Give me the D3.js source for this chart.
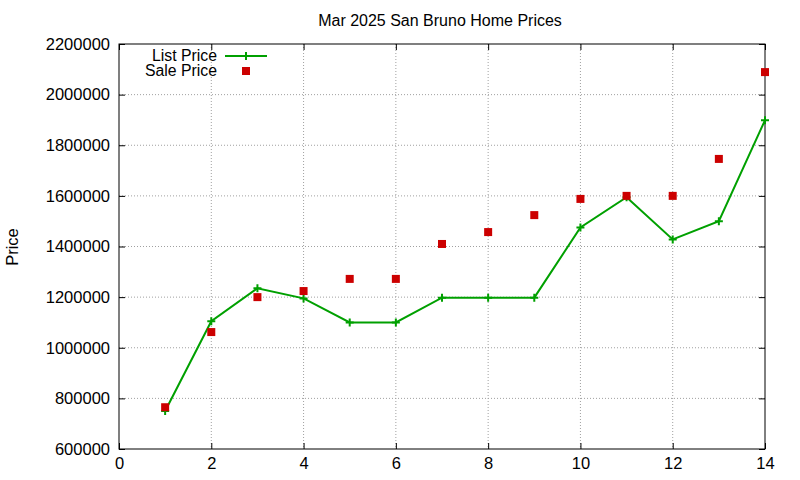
<!DOCTYPE html>
<html><head><meta charset="utf-8">
<script src="https://cdn.jsdelivr.net/npm/d3@7"></script>
<style>body{margin:0;background:#fff}svg{font-family:"Liberation Sans",Arial,sans-serif}</style>
</head><body><svg id="c" width="800" height="480"></svg>
<script>
const months=[1,2,3,4,5,6,7,8,9,10,11,12,13,14];
const listPrice=[750000,1105000,1235000,1195000,1100000,1100000,1198000,1198000,1198000,1475000,1595000,1428000,1500000,1899000];
const salePrice=[765000,1062000,1200000,1224000,1272000,1272000,1410000,1457000,1524000,1588000,1600000,1600000,1746000,2089000];
const xTicks=[0,2,4,6,8,10,12,14];
const yTicks=[600000,800000,1000000,1200000,1400000,1600000,1800000,2000000,2200000];
const svg=d3.select("#c");
const L=119,R=765,T=44,B=449;
const x=d3.scaleLinear().domain([0,14]).range([L,R]);
const y=d3.scaleLinear().domain([600000,2200000]).range([B,T]);
const g=svg.append("g");
xTicks.slice(1,-1).forEach(t=>g.append("line").attr("x1",x(t)).attr("x2",x(t)).attr("y1",T).attr("y2",B).attr("stroke","#a0a0a0").attr("stroke-dasharray","1,2"));
yTicks.slice(1,-1).forEach(t=>g.append("line").attr("x1",L).attr("x2",R).attr("y1",y(t)).attr("y2",y(t)).attr("stroke","#a0a0a0").attr("stroke-dasharray","1,2"));
svg.append("g").attr("transform",`translate(0,${B})`).call(d3.axisBottom(x).tickValues(xTicks).tickSize(-6).tickPadding(8).tickFormat(d3.format("d")));
svg.append("g").attr("transform",`translate(${L},0)`).call(d3.axisLeft(y).tickValues(yTicks).tickSize(-6).tickPadding(9).tickFormat(d3.format("d")));
svg.append("g").attr("transform",`translate(0,${T})`).call(d3.axisTop(x).tickValues(xTicks).tickSize(-6).tickFormat(""));
svg.append("g").attr("transform",`translate(${R},0)`).call(d3.axisRight(y).tickValues(yTicks).tickSize(-6).tickFormat(""));
svg.selectAll(".domain").remove();
svg.append("rect").attr("x",L).attr("y",T).attr("width",R-L).attr("height",B-T).attr("fill","none").attr("stroke","#000");
svg.selectAll(".tick text").attr("font-size",16.5).attr("font-family","Liberation Sans,Arial").attr("fill","#000");
const green="#00a000",red="#cc0000";
svg.append("path").datum(months.map((m,i)=>[m,listPrice[i]])).attr("d",d3.line().x(d=>x(d[0])).y(d=>y(d[1]))).attr("fill","none").attr("stroke",green).attr("stroke-width",2);
const plus=(cx,cy)=>svg.append("path").attr("d",`M${cx-4},${cy}H${cx+4}M${cx},${cy-4}V${cy+4}`).attr("stroke",green).attr("stroke-width",2);
months.forEach((m,i)=>plus(x(m),y(listPrice[i])));
months.forEach((m,i)=>svg.append("rect").attr("x",x(m)-4).attr("y",y(salePrice[i])-4).attr("width",8).attr("height",8).attr("fill",red));
svg.append("text").attr("x",217).attr("y",61).attr("text-anchor","end").attr("font-size",15.8).text("List Price");
svg.append("line").attr("x1",225).attr("x2",267).attr("y1",56).attr("y2",56).attr("stroke",green).attr("stroke-width",2);
plus(246,56);
svg.append("text").attr("x",217).attr("y",76).attr("text-anchor","end").attr("font-size",15.8).text("Sale Price");
svg.append("rect").attr("x",242).attr("y",67).attr("width",8).attr("height",8).attr("fill",red);
svg.append("text").attr("x",440).attr("y",26).attr("text-anchor","middle").attr("font-size",16).text("Mar 2025 San Bruno Home Prices");
svg.append("text").attr("transform","translate(18,247) rotate(-90)").attr("text-anchor","middle").attr("font-size",16.5).text("Price");
</script></body></html>
